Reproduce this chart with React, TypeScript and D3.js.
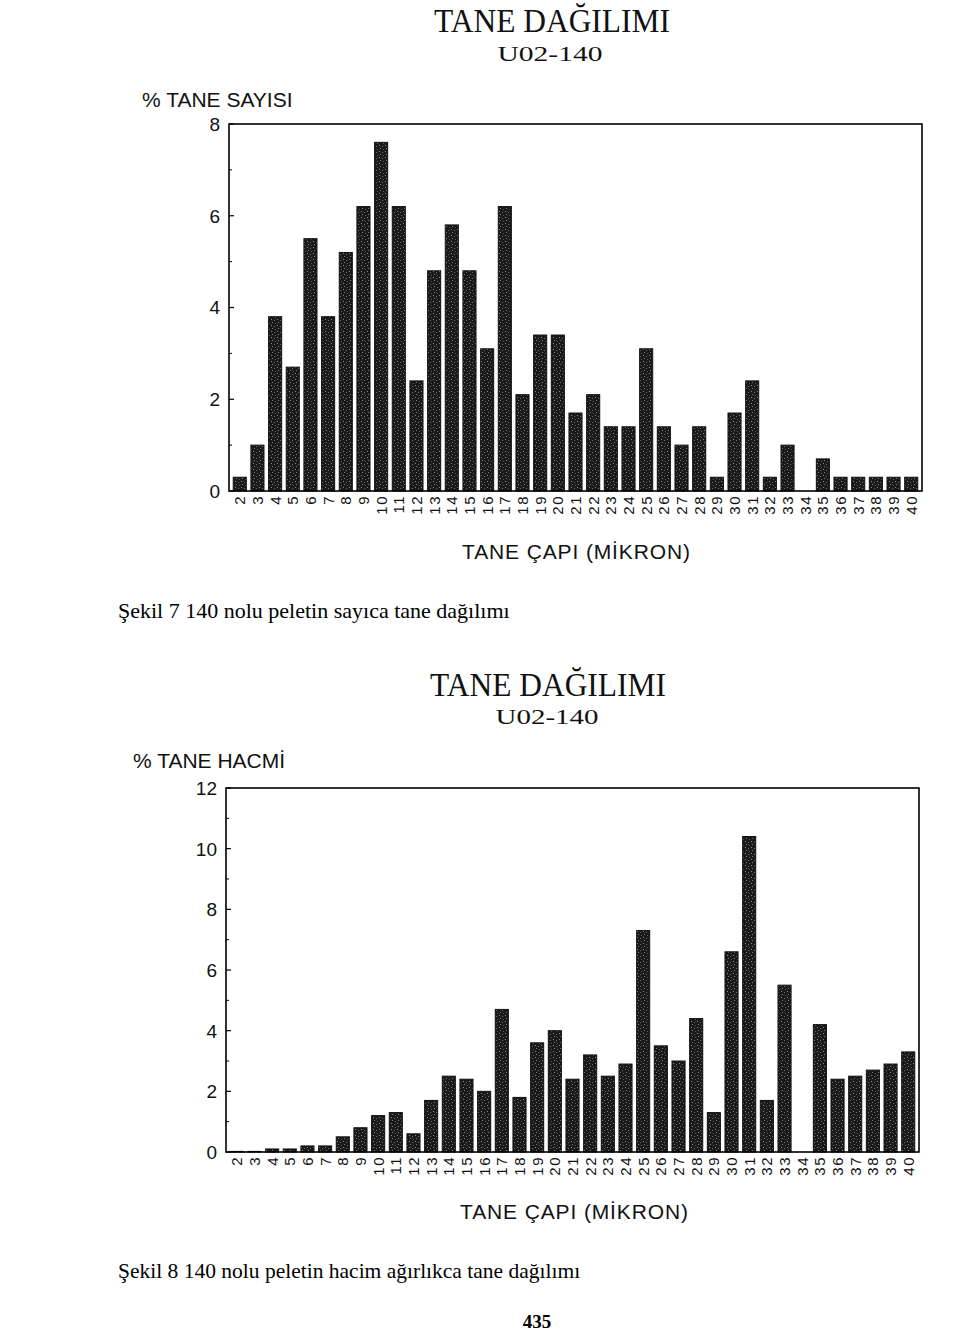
import React from "react";
import * as d3 from "d3";

const categories = [
  "2","3","4","5","6","7","8","9","10","11","12","13","14","15","16","17","18","19","20","21",
  "22","23","24","25","26","27","28","29","30","31","32","33","34","35","36","37","38","39","40",
];

// % TANE SAYISI (count distribution)
const countValues = [
  0.3, 1.0, 3.8, 2.7, 5.5, 3.8, 5.2, 6.2, 7.6, 6.2, 2.4, 4.8, 5.8, 4.8, 3.1, 6.2, 2.1, 3.4, 3.4, 1.7,
  2.1, 1.4, 1.4, 3.1, 1.4, 1.0, 1.4, 0.3, 1.7, 2.4, 0.3, 1.0, 0, 0.7, 0.3, 0.3, 0.3, 0.3, 0.3,
];

// % TANE HACMİ (volume distribution)
const volumeValues = [
  0.02, 0.02, 0.1, 0.1, 0.2, 0.2, 0.5, 0.8, 1.2, 1.3, 0.6, 1.7, 2.5, 2.4, 2.0, 4.7, 1.8, 3.6, 4.0, 2.4,
  3.2, 2.5, 2.9, 7.3, 3.5, 3.0, 4.4, 1.3, 6.6, 10.4, 1.7, 5.5, 0, 4.2, 2.4, 2.5, 2.7, 2.9, 3.3,
];

const countTicks = [0, 2, 4, 6, 8];
const countMinor = [1, 3, 5, 7];
const volumeTicks = [0, 2, 4, 6, 8, 10, 12];
const volumeMinor = [1, 3, 5, 7, 9, 11];

const SANS = "'Liberation Sans', Arial, sans-serif";
const SERIF = "'Liberation Serif', 'Times New Roman', serif";

type ChartProps = {
  values: number[];
  yMax: number;
  ticks: number[];
  minor: number[];
  left: number;
  right: number;
  top: number;
  bottom: number;
};

function BarChart({ values, yMax, ticks, minor, left, right, top, bottom }: ChartProps) {
  const x = d3.scaleBand<string>().domain(categories).range([left, right]).paddingInner(0.26).paddingOuter(0.24);
  const y = d3.scaleLinear().domain([0, yMax]).range([bottom, top]);
  return (
    <g>
      {values.map((v, i) =>
        v > 0 ? (
          <rect
            key={categories[i]}
            x={x(categories[i])}
            y={y(v)}
            width={x.bandwidth()}
            height={y(0) - y(v)}
            fill="url(#stipple)"
            stroke="#111"
            strokeWidth={1}
          />
        ) : null
      )}
      <rect x={left} y={top} width={right - left} height={bottom - top} fill="none" stroke="#000" strokeWidth={1.6} />
      {ticks.map((t) => (
        <g key={"t" + t}>
          <line x1={left} x2={left + 5} y1={y(t)} y2={y(t)} stroke="#000" strokeWidth={1.2} />
          <text x={left - 9} y={y(t)} dy="0.36em" textAnchor="end" fontFamily={SANS} fontSize={19} fill="#111">
            {t}
          </text>
        </g>
      ))}
      {minor.map((t) => (
        <line key={"m" + t} x1={left} x2={left + 3} y1={y(t)} y2={y(t)} stroke="#000" strokeWidth={1} />
      ))}
      {categories.map((c) => {
        const cx = (x(c) as number) + x.bandwidth() / 2;
        const ty = bottom + 4;
        return (
          <text
            key={"x" + c}
            transform={`translate(${cx},${ty}) rotate(-90)`}
            textAnchor="end"
            dy="0.36em"
            fontFamily={SANS}
            fontSize={15}
            letterSpacing={1.5}
            fill="#111"
          >
            {c}
          </text>
        );
      })}
    </g>
  );
}

export default function App() {
  return (
    <svg
      width={960}
      height={1335}
      viewBox="0 0 960 1335"
      style={{ position: "absolute", left: 0, top: 0, background: "#fff" }}
    >
      <defs>
        <pattern id="stipple" width={6} height={6} patternUnits="userSpaceOnUse">
          <rect width={6} height={6} fill="#1a1a1a" />
          <rect x={1} y={1} width={1} height={1} fill="#8a8a8a" />
          <rect x={4} y={2} width={1} height={1} fill="#6f6f6f" />
          <rect x={2} y={4} width={1} height={1} fill="#7d7d7d" />
          <rect x={5} y={5} width={1} height={1} fill="#5a5a5a" />
        </pattern>
      </defs>

      {/* Top chart */}
      <text x={552} y={32} textAnchor="middle" fontFamily={SERIF} fontSize={33} textLength={236} lengthAdjust="spacingAndGlyphs" fill="#111">
        TANE DAĞILIMI
      </text>
      <text x={550} y={61} textAnchor="middle" fontFamily={SERIF} fontSize={21} textLength={105} lengthAdjust="spacingAndGlyphs" fill="#111">
        U02-140
      </text>
      <text x={142} y={107} fontFamily={SANS} fontSize={21} fill="#111">
        % TANE SAYISI
      </text>
      <BarChart values={countValues} yMax={8} ticks={countTicks} minor={countMinor} left={229} right={922} top={124} bottom={491} />
      <text x={576} y={559} textAnchor="middle" fontFamily={SANS} fontSize={21} textLength={228} lengthAdjust="spacing" fill="#111">
        TANE ÇAPI (MİKRON)
      </text>
      <text x={118} y={618} fontFamily={SERIF} fontSize={22} fill="#000">
        Şekil 7 140 nolu peletin sayıca tane dağılımı
      </text>

      {/* Bottom chart */}
      <text x={548} y={696} textAnchor="middle" fontFamily={SERIF} fontSize={33} textLength={236} lengthAdjust="spacingAndGlyphs" fill="#111">
        TANE DAĞILIMI
      </text>
      <text x={547} y={724} textAnchor="middle" fontFamily={SERIF} fontSize={21} textLength={103} lengthAdjust="spacingAndGlyphs" fill="#111">
        U02-140
      </text>
      <text x={133} y={768} fontFamily={SANS} fontSize={21} fill="#111">
        % TANE HACMİ
      </text>
      <BarChart values={volumeValues} yMax={12} ticks={volumeTicks} minor={volumeMinor} left={226} right={919} top={788} bottom={1152} />
      <text x={574} y={1219} textAnchor="middle" fontFamily={SANS} fontSize={21} textLength={228} lengthAdjust="spacing" fill="#111">
        TANE ÇAPI (MİKRON)
      </text>
      <text x={118} y={1278} fontFamily={SERIF} fontSize={21.5} fill="#000">
        Şekil 8 140 nolu peletin hacim ağırlıkca tane dağılımı
      </text>
      <text x={537} y={1328} textAnchor="middle" fontFamily={SERIF} fontSize={19} fontWeight="bold" fill="#000">
        435
      </text>
    </svg>
  );
}
